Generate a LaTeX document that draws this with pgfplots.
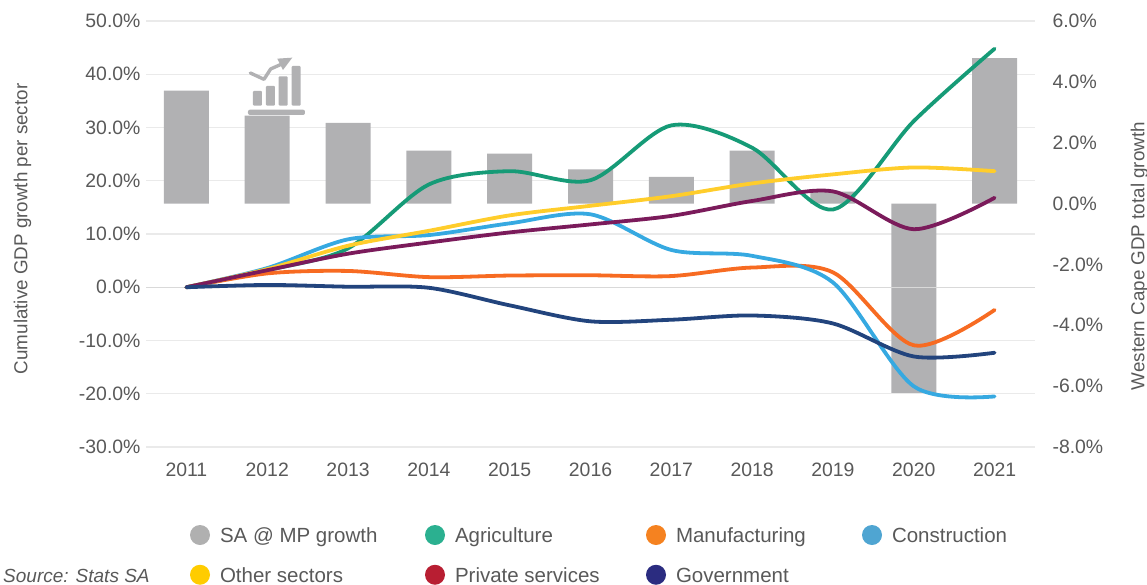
\documentclass[border=0pt]{standalone}
\usepackage{pgfplots}
\pgfplotsset{compat=1.18}
\usepackage{fontspec}
\setmainfont{Liberation Sans}
\definecolor{txt}{HTML}{595959}
\definecolor{gridc}{HTML}{EAEAEA}
\definecolor{zeroc}{HTML}{D9D9D9}
\definecolor{barc}{HTML}{B1B1B3}
\definecolor{cagr}{HTML}{169B77}
\definecolor{cman}{HTML}{F76B22}
\definecolor{ccon}{HTML}{36A9E1}
\definecolor{coth}{HTML}{FFCD2B}
\definecolor{cpri}{HTML}{7B1B5B}
\definecolor{cgov}{HTML}{22447D}
\definecolor{lgry}{HTML}{B0B0B0}
\definecolor{lagr}{HTML}{2BB090}
\definecolor{lman}{HTML}{F58220}
\definecolor{lcon}{HTML}{4FA5D2}
\definecolor{loth}{HTML}{FFCC00}
\definecolor{lpri}{HTML}{B81E32}
\definecolor{lgov}{HTML}{2B2C80}
\pgfplotsset{
  base/.style={
    at={(146pt,137pt)}, anchor=south west,
    scale only axis, width=889pt, height=426pt,
    xmin=-0.5, xmax=10.5,
    axis line style={draw=none},
    tick style={draw=none},
    tick label style={font=\fontsize{19.4}{21}\selectfont, text=txt},
    /pgf/number format/assume math mode=true,
    /pgf/number format/fixed, /pgf/number format/fixed zerofill,
    /pgf/number format/precision=1,
  },
  ln/.style={line width=3.8pt, smooth, tension=0.5, line cap=round, line join=round, mark=none},
  dot/.style={legend image code/.code={\fill[draw=none,##1] (10pt,1pt) circle (10pt);}},
}
\newcommand{\lbx}[2]{\makebox[#1][l]{\hspace*{8pt}#2\strut}}
\begin{document}
\begin{tikzpicture}[x=1pt,y=1pt]
\useasboundingbox (0,0) rectangle (1147,584);
% gridlines behind the bars (left-axis scale)
\begin{axis}[base,
  ymin=-30, ymax=50, ytick={-30,-20,...,50},
  xtick=\empty, yticklabels={},
  ymajorgrids, grid style={gridc, line width=1.2pt},
]
\addplot[draw=none, forget plot] coordinates {(0,0)};
\end{axis}
% right axis with the bars
\begin{axis}[base,
  ymin=-8, ymax=6, ytick={-8,-6,...,6},
  axis y line*=right, axis x line=none,
  yticklabel={\pgfmathprintnumber{\tick}\%},
  yticklabel style={anchor=west, xshift=14pt},
  ylabel={Western Cape GDP total growth},
  ylabel style={font=\fontsize{18.8}{20}\selectfont, text=txt, at={(axis description cs:1.1315,0.448)}, rotate=0, anchor=south},
]
\addplot[ybar, bar width=45pt, fill=barc, draw=none] coordinates {
 (0,3.71) (1,2.89) (2,2.65) (3,1.74) (4,1.64) (5,1.12) (6,0.88) (7,1.74) (8,0.39) (9,-6.22) (10,4.78)};
\end{axis}
% left axis with the lines
\begin{axis}[base,
  ymin=-30, ymax=50, ytick={-30,-20,...,50},
  axis y line*=left,
  xtick={0,...,10},
  xticklabels={2011,2012,2013,2014,2015,2016,2017,2018,2019,2020,2021},
  xticklabel style={yshift=-12pt},
  yticklabel={\pgfmathprintnumber{\tick}\%},
  yticklabel style={anchor=east, xshift=-2pt},
  extra y ticks={0}, extra y tick labels={},
  extra y tick style={grid=major, grid style={zeroc, line width=1.2pt}},
  ylabel={Cumulative GDP growth per sector},
  ylabel style={font=\fontsize{18.8}{20}\selectfont, text=txt, at={(axis description cs:-0.125,0.512)}, anchor=south},
  legend columns=4,
  legend cell align=left,
  legend style={draw=none, fill=none, at={(44pt,-78pt)}, anchor=north west,
    font=\fontsize{20.5}{22}\selectfont, text=txt, inner sep=0pt, outer sep=0pt,
    cells={anchor=west}, row sep=18.3pt},
]
\addlegendimage{dot, fill=lgry}
\addlegendentry{\lbx{211pt}{SA @ MP growth}}
\addplot[ln, color=cagr, forget plot] coordinates {
 (0,0) (1,3.2) (2,7.3) (3,19.3) (4,21.8) (5,20.1) (6,30.4) (7,26.2) (8,14.6) (9,31.2) (10,44.8)};
\addplot[ln, color=cman, forget plot] coordinates {
 (0,0) (1,2.6) (2,3.06) (3,1.9) (4,2.2) (5,2.25) (6,2.1) (7,3.7) (8,2.8) (9,-10.9) (10,-4.26)};
\addplot[ln, color=ccon, forget plot] coordinates {
 (0,0) (1,3.6) (2,9.0) (3,9.8) (4,12.0) (5,13.7) (6,7.0) (7,5.9) (8,0.9) (9,-18.6) (10,-20.5)};
\addplot[ln, color=coth, forget plot] coordinates {
 (0,0) (1,3.4) (2,7.8) (3,10.6) (4,13.5) (5,15.3) (6,17.1) (7,19.5) (8,21.2) (9,22.5) (10,21.8)};
\addplot[ln, color=cpri, forget plot] coordinates {
 (0,0) (1,3.2) (2,6.3) (3,8.4) (4,10.3) (5,11.8) (6,13.4) (7,16.2) (8,18.0) (9,10.9) (10,16.8)};
\addplot[ln, color=cgov, forget plot] coordinates {
 (0,0) (1,0.43) (2,0.1) (3,-0.1) (4,-3.4) (5,-6.4) (6,-6.1) (7,-5.3) (8,-6.8) (9,-13.0) (10,-12.3)};
\addlegendimage{dot, fill=lagr}
\addlegendentry{\lbx{197pt}{Agriculture}}
\addlegendimage{dot, fill=lman}
\addlegendentry{\lbx{192pt}{Manufacturing}}
\addlegendimage{dot, fill=lcon}
\addlegendentry{\lbx{120pt}{Construction}}
\addlegendimage{dot, fill=loth}
\addlegendentry{\lbx{211pt}{Other sectors}}
\addlegendimage{dot, fill=lpri}
\addlegendentry{\lbx{197pt}{Private services}}
\addlegendimage{dot, fill=lgov}
\addlegendentry{\lbx{192pt}{Government}}
\end{axis}
% source
\node[anchor=base west, font=\itshape\fontsize{19}{22}\selectfont, text=txt, inner sep=0pt] at (3,2) {Source: Stats SA};
% icon
\begin{scope}[shift={(140,584)}, x=0.3333pt, y=-0.3333pt]
\fill[barc, rounded corners=1pt] (339,273) rectangle (366,317);
\fill[barc, rounded corners=1pt] (378,258) rectangle (405,317);
\fill[barc, rounded corners=1pt] (416,229) rectangle (443,317);
\fill[barc, rounded corners=1pt] (455,198) rectangle (482,317);
\fill[barc, rounded corners=2pt] (324,329) rectangle (495,345);
\draw[barc, line width=3.4pt, line cap=round, line join=round] (331,219) -- (372,238) -- (392,207) -- (430,190);
\fill[barc] (412,176) -- (457,173) -- (429,210) -- cycle;
\end{scope}
\end{tikzpicture}
\end{document}
